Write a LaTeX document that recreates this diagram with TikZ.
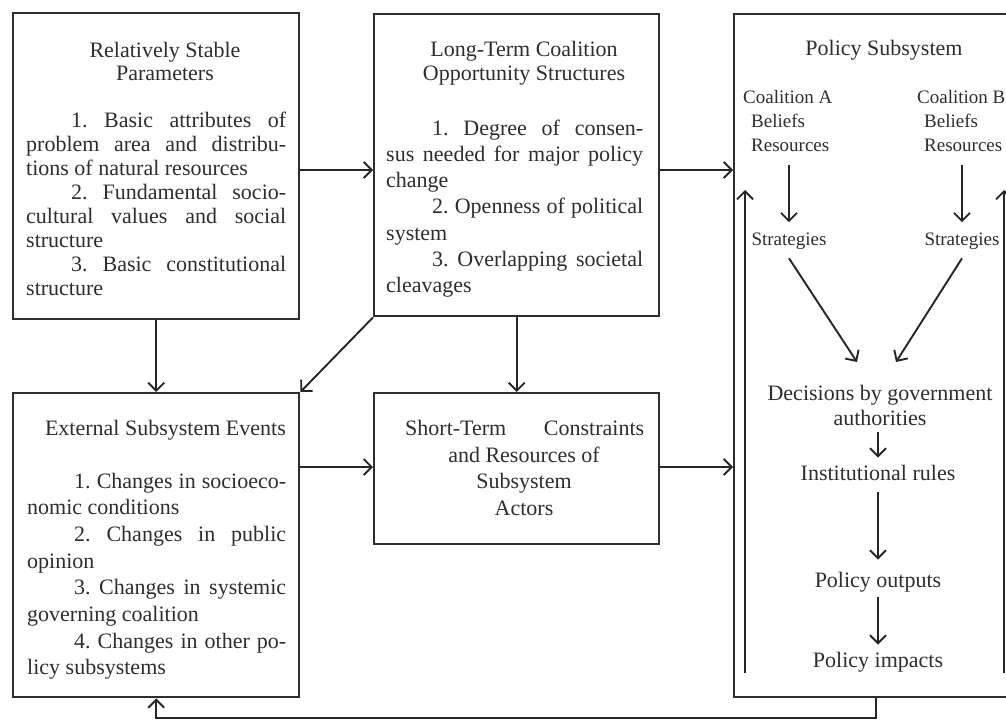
\documentclass[tikz,border=0pt]{standalone}
\usepackage{fontspec}
\setmainfont{Liberation Serif}
\usetikzlibrary{arrows.meta}
\hbadness=10000
\hfuzz=50pt
\begin{document}
\begin{tikzpicture}[x=1pt,y=-1pt,
  box/.style={draw=black!82, line width=2.4pt, anchor=north west, inner sep=0pt},
  txt/.style={inner sep=0pt, text=black!82, font=\fontsize{22}{24}\selectfont\frenchspacing},
  small/.style={inner sep=0pt, text=black!82, font=\fontsize{19}{24}\selectfont\frenchspacing},
  arr/.style={draw=black!85, line width=1.9pt, -{Straight Barb[length=8pt,width=16pt]}},
]
\clip (0,0) rectangle (1006,720);
\fill[white] (0,0) rectangle (1006,720);

% boxes
\node[box, minimum width=286pt, minimum height=306pt] (rsp) at (12,12) {};
\node[box, minimum width=285pt, minimum height=302pt] (ltc) at (373,13) {};
\node[box, minimum width=284pt, minimum height=683pt] (ps) at (733,13) {};
\node[box, minimum width=286pt, minimum height=304pt] (ext) at (12,392) {};
\node[box, minimum width=285pt, minimum height=151pt] (stc) at (373,392) {};

% Relatively stable parameters
\node[txt, anchor=base] (rspT1) at (165,57) {Relatively Stable};
\node[txt, anchor=base] (rspT2) at (165,80) {Parameters};
\node[txt, anchor=base west] (rspB) at (26,127) {\vtop{\baselineskip=24pt
 \hbox to 260pt{\hspace*{45pt}1. Basic attributes of}
 \hbox to 260pt{problem area and distribu-}
 \hbox{tions of natural resources}
 \hbox to 260pt{\hspace*{45pt}2. Fundamental socio-}
 \hbox to 260pt{cultural values and social}
 \hbox{structure}
 \hbox to 260pt{\hspace*{45pt}3. Basic constitutional}
 \hbox{structure}}};

% Long-term coalition opportunity structures
\node[txt, anchor=base] (ltcT1) at (524,56) {Long-Term Coalition};
\node[txt, anchor=base] (ltcT2) at (524,80) {Opportunity Structures};
\node[txt, anchor=base west] (ltcB) at (386,135) {\vtop{\baselineskip=26.3pt
 \hbox to 257pt{\hspace*{46pt}1. Degree of consen-}
 \hbox to 257pt{sus needed for major policy}
 \hbox{change}
 \hbox to 257pt{\hspace*{46pt}2. Openness of political}
 \hbox{system}
 \hbox to 257pt{\hspace*{46pt}3. Overlapping societal}
 \hbox{cleavages}}};

% External subsystem events
\node[txt, anchor=base east] (extT) at (286,435) {External Subsystem Events};
\node[txt, anchor=base west] (extB) at (27,488) {\vtop{\baselineskip=26.7pt
 \hbox to 259pt{\hspace*{47pt}1. Changes in socioeco-}
 \hbox{nomic conditions}
 \hbox to 259pt{\hspace*{47pt}2. Changes in public}
 \hbox{opinion}
 \hbox to 259pt{\hspace*{47pt}3. Changes in systemic}
 \hbox{governing coalition}
 \hbox to 259pt{\hspace*{47pt}4. Changes in other po-}
 \hbox{licy subsystems}}};

% Short-term constraints
\node[txt, anchor=base west] (stc1) at (405,435) {\hbox to 239pt{Short-Term\hfill Constraints}};
\node[txt, anchor=base] (stc2) at (524,462) {and Resources of};
\node[txt, anchor=base] (stc3) at (524,488) {Subsystem};
\node[txt, anchor=base] (stc4) at (524,515) {Actors};

% Policy subsystem contents
\node[txt, anchor=base] (psT) at (884,55) {Policy Subsystem};
\node[small, anchor=base west] (caN) at (743,103) {Coalition A};
\node[small, anchor=base west] (caB) at (751,127) {Beliefs};
\node[small, anchor=base west] (caR) at (751,151) {Resources};
\node[small, anchor=base] (caS) at (789,245) {Strategies};
\node[small, anchor=base west] (cbN) at (917,103) {Coalition B};
\node[small, anchor=base west] (cbB) at (924,127) {Beliefs};
\node[small, anchor=base west] (cbR) at (924,151) {Resources};
\node[small, anchor=base] (cbS) at (962,245) {Strategies};
\node[txt, anchor=base] (dec1) at (880,400) {Decisions by government};
\node[txt, anchor=base] (dec2) at (880,425) {authorities};
\node[txt, anchor=base] (inst) at (878,480) {Institutional rules};
\node[txt, anchor=base] (outp) at (878,587) {Policy outputs};
\node[txt, anchor=base] (imp) at (878,667) {Policy impacts};

% helper coordinates
\coordinate (r1) at (0,170);
\coordinate (r2) at (0,467);
\coordinate (fb) at (0,718);
\coordinate (decA) at (857,362);
\coordinate (decB) at (896,362);
\coordinate (lb) at (745,673);
\coordinate (lt) at (745,190);
\coordinate (rb) at (1004,673);
\coordinate (rt) at (1004,190);

% main connectors
\draw[arr] (rsp.east |- r1) -- (ltc.west |- r1);
\draw[arr] (ltc.east |- r1) -- (ps.west |- r1);
\draw[arr] (rsp.south) -- (ext.north);
\draw[arr] (ltc.south west) -- (ext.north east);
\draw[arr] (ltc.south) -- (stc.north);
\draw[arr] (ext.east |- r2) -- (stc.west |- r2);
\draw[arr] (stc.east |- r2) -- (ps.west |- r2);
\draw[arr] (ps.south) -- (ps.south |- fb) -| (ext.south);

% inside policy subsystem
\draw[arr] ([yshift=-14pt]caR.south -| caS.north) -- ([yshift=10pt]caS.north);
\draw[arr] ([yshift=-14pt]cbR.south -| cbS.north) -- ([yshift=10pt]cbS.north);
\draw[arr] ([yshift=-9pt]caS.south) -- (decA);
\draw[arr] ([yshift=-9pt]cbS.south) -- (decB);
\draw[arr] ([yshift=-7pt]dec2.south -| inst.north) -- ([yshift=7pt]inst.north);
\draw[arr] ([yshift=-12pt]inst.south) -- ([yshift=12pt]outp.north);
\draw[arr] ([yshift=-5pt]outp.south) -- ([yshift=7pt]imp.north);
\draw[arr] (lb) -- (lt);
\draw[arr] (rb) -- (rt);
\end{tikzpicture}
\end{document}
